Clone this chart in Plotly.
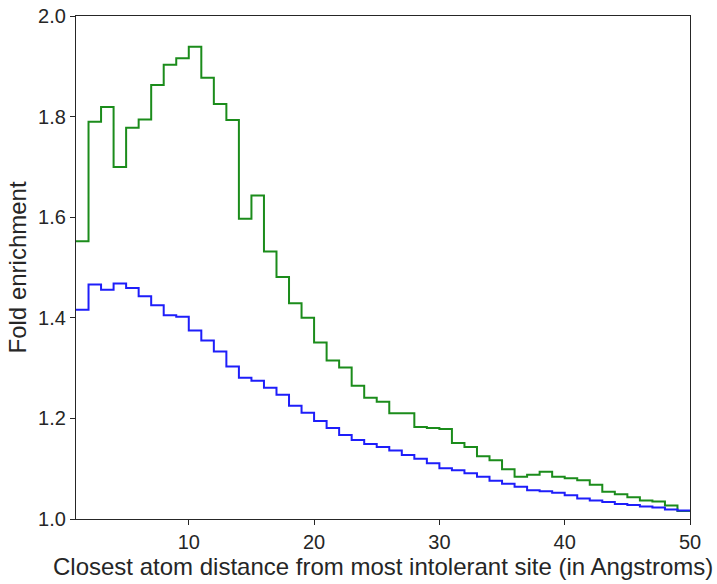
import plotly.graph_objects as go

# Bin left edges (Angstroms), bins are 1 Å wide from 1 to 50
bin_edges = list(range(1, 51))

green_values = [1.552, 1.790, 1.819, 1.700, 1.778, 1.794, 1.863, 1.903, 1.916, 1.939,
                1.877, 1.825, 1.793, 1.597, 1.643, 1.532, 1.481, 1.429, 1.400, 1.351,
                1.315, 1.301, 1.265, 1.241, 1.233, 1.210, 1.210, 1.183, 1.181, 1.179,
                1.151, 1.143, 1.125, 1.117, 1.099, 1.084, 1.088, 1.094, 1.084, 1.081,
                1.077, 1.068, 1.054, 1.049, 1.043, 1.037, 1.035, 1.027, 1.016]

blue_values = [1.416, 1.466, 1.456, 1.468, 1.459, 1.443, 1.425, 1.405, 1.402, 1.375,
               1.355, 1.333, 1.303, 1.281, 1.275, 1.261, 1.247, 1.225, 1.211, 1.195,
               1.181, 1.167, 1.157, 1.149, 1.143, 1.136, 1.127, 1.120, 1.111, 1.101,
               1.097, 1.091, 1.084, 1.076, 1.070, 1.064, 1.057, 1.055, 1.052, 1.047,
               1.041, 1.037, 1.034, 1.030, 1.028, 1.025, 1.023, 1.019, 1.017]

x_ticks = [10, 20, 30, 40, 50]
y_ticks = [1.0, 1.2, 1.4, 1.6, 1.8, 2.0]
x_label = "Closest atom distance from most intolerant site (in Angstroms)"
y_label = "Fold enrichment"

GREEN = "#1b8c1b"
BLUE = "#1e1efa"
AX = "#262626"
FONT = "Liberation Sans, Arial, sans-serif"

fig = go.Figure()
for vals, col in [(green_values, GREEN), (blue_values, BLUE)]:
    fig.add_trace(go.Scatter(
        x=bin_edges, y=vals + [vals[-1]],
        mode="lines", line=dict(shape="hv", color=col, width=2),
        showlegend=False, hoverinfo="skip"))

axis_common = dict(
    showgrid=False, zeroline=False, showline=True, linecolor=AX, linewidth=1.25,
    mirror=True, ticks="outside", ticklen=5, tickwidth=1, tickcolor=AX,
    automargin=False,
    tickfont=dict(family=FONT, size=20, color=AX),
)

fig.update_layout(
    width=717, height=584,
    margin=dict(l=76, r=27, t=16, b=65),
    plot_bgcolor="white", paper_bgcolor="white",
    xaxis=dict(range=[1, 50], tickvals=x_ticks, **axis_common),
    yaxis=dict(range=[1.0, 2.0], tickvals=y_ticks, tickformat=".1f", **axis_common),
    annotations=[
        dict(text=x_label, xref="paper", yref="paper", x=0.5, y=-0.0954,
             xanchor="center", yanchor="middle", showarrow=False,
             font=dict(family=FONT, size=24, color=AX)),
        dict(text=y_label, xref="paper", yref="paper", x=-0.0945, y=0.5,
             xanchor="center", yanchor="middle", textangle=-90, showarrow=False,
             font=dict(family=FONT, size=24, color=AX)),
    ],
)

fig.write_html("out.html")
